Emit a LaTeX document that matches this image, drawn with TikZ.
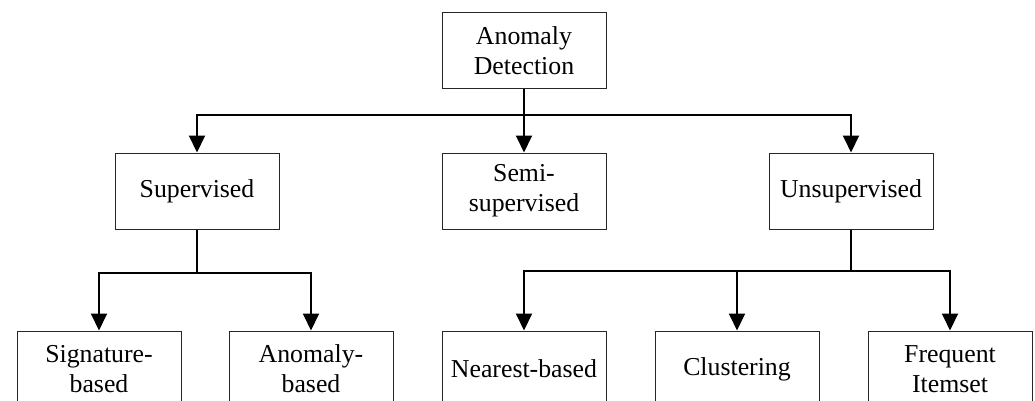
\documentclass[tikz,border=0pt]{standalone}
\usepackage{fontspec}
\setmainfont{Liberation Serif}
\usetikzlibrary{arrows.meta}
\begin{document}
\begin{tikzpicture}[x=1pt,y=-1pt,
  box/.style={draw=black!85,line width=1pt,minimum width=164pt,minimum height=76pt,inner sep=0pt,align=center,font=\fontsize{25.8}{30}\selectfont},
  conn/.style={line width=2pt,black},
  arr/.style={conn,-{Triangle[length=17pt,width=16pt]}}]
\useasboundingbox (0,0) rectangle (1035,401);
\clip (0,0) rectangle (1035,401);
\fill[white] (0,0) rectangle (1035,401);
\node[box] (top) at (524,51) {Anomaly\\Detection};
\node[box] (sup) at (197,191) {Supervised};
\node[box] (semi) at (524,191) {Semi-\\supervised};
\node[box] (uns) at (851,191) {Unsupervised};
\node[box] (sig) at (99,369) {Signature-\\based};
\node[box] (anb) at (311,369) {Anomaly-\\based};
\node[box] (near) at (524,369) {Nearest-based};
\node[box] (clu) at (737,369) {Clustering};
\node[box] (freq) at (950,369) {Frequent\\Itemset};
\coordinate (j1) at (524,115);
\coordinate (j2) at (197,273);
\coordinate (j3) at (851,271);
\draw[conn] (top.south) -- (j1);
\draw[arr] (j1) -| (sup.north);
\draw[arr] (j1) -| (uns.north);
\draw[arr] (j1) -- (semi.north);
\draw[conn] (sup.south) -- (j2);
\draw[arr] (j2) -| (sig.north);
\draw[arr] (j2) -| (anb.north);
\draw[conn] (uns.south) -- (j3);
\draw[arr] (j3) -| (near.north);
\draw[arr] (j3) -| (clu.north);
\draw[arr] (j3) -| (freq.north);
\end{tikzpicture}
\end{document}
